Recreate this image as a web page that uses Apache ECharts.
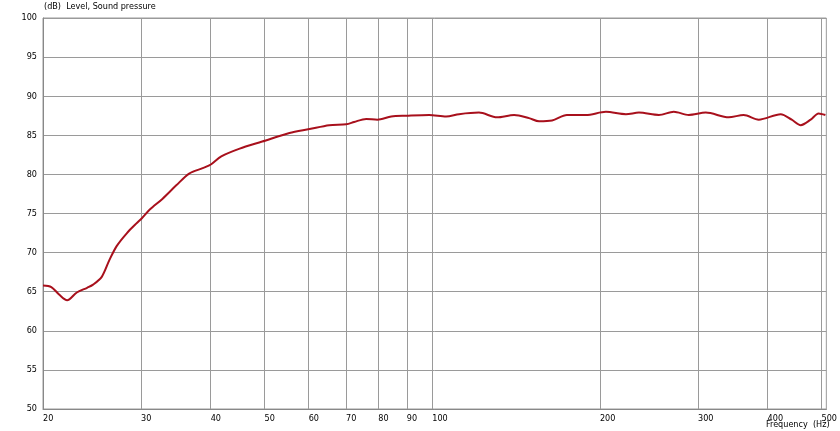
<!DOCTYPE html>
<html><head><meta charset="utf-8">
<script src="https://cdn.jsdelivr.net/npm/echarts@6/dist/echarts.min.js"></script>
<style>html,body{margin:0;padding:0;background:#fff}#c{width:840px;height:431px}</style>
</head><body><div id="c"></div>
<script>
const freqHz = [20.0,20.7,21.4,22.1,23.0,24.0,24.6,25.5,26.3,27.1,28.3,29.4,30.1,31.1,32.8,34.7,36.6,38.7,40.1,41.8,45.1,49.5,55.4,60.2,65.3,70.1,72.4,76.1,79.7,84.4,89.8,98.7,105.9,111.7,121.3,130.7,140.3,149.2,155.5,164.1,174.5,188.8,205,222.7,235,255.2,271.4,288.8,309.8,340.6,362.4,385.6,422.3,442,458.8,478,494,508];
const levelDb = [65.8,65.6,64.6,63.9,64.9,65.5,65.9,66.9,69.0,70.8,72.5,73.7,74.4,75.5,76.9,78.6,80.1,80.8,81.3,82.3,83.3,84.2,85.3,85.8,86.3,86.4,86.7,87.1,87.0,87.4,87.5,87.6,87.4,87.7,87.9,87.3,87.6,87.2,86.8,86.9,87.6,87.6,88.0,87.7,87.9,87.6,88.0,87.6,87.9,87.3,87.6,87.0,87.7,87.0,86.3,87.0,87.8,87.6];
const xTicks = [20,30,40,50,60,70,80,90,100,200,300,400,500];
const yTicks = [50,55,60,65,70,75,80,85,90,95,100];
const yTitle = '(dB)  Level, Sound pressure';
const xTitle = 'Frequency  (Hz)';

const chart = echarts.init(document.getElementById('c'), null, {renderer:'canvas'});
const font = '"DejaVu Sans Condensed", "DejaVu Sans", sans-serif';
chart.setOption({
  animation:false,
  backgroundColor:'#fff',
  grid:{left:43, right:12, top:18, bottom:22, show:true, borderColor:'#9a9a9a', borderWidth:1},
  graphic:[
    {type:'text', left:44, top:2, style:{text:yTitle, fontFamily:font, fontSize:9, fill:'#000'}},
    {type:'text', left:766, top:420, style:{text:xTitle, fontFamily:font, fontSize:9, fill:'#000'}}
  ],
  xAxis:{
    type:'value',
    min:Math.log10(20), max:Math.log10(510),
    axisLine:{show:true, lineStyle:{color:'#888'}},
    axisTick:{show:false, customValues:xTicks.map(Math.log10)},
    axisLabel:{customValues:xTicks.map(Math.log10), formatter:v=>String(Math.round(Math.pow(10,v))),
      align:'left', margin:5, fontFamily:font, fontSize:9, color:'#000', showMaxLabel:true, showMinLabel:true},
    splitLine:{show:true, lineStyle:{color:'#9a9a9a', width:1}}
  },
  yAxis:{
    type:'value', min:yTicks[0], max:yTicks[yTicks.length-1], interval:5,
    axisLine:{show:true, lineStyle:{color:'#888'}},
    axisTick:{show:false},
    axisLabel:{margin:6, fontFamily:font, fontSize:9, color:'#000'},
    splitLine:{show:true, lineStyle:{color:'#9a9a9a', width:1}}
  },
  series:[{
    type:'line', showSymbol:false, smooth:0.3,
    lineStyle:{color:'#a8101c', width:2},
    data:freqHz.map((f,i)=>[Math.log10(f), levelDb[i]])
  }]
});
</script></body></html>
